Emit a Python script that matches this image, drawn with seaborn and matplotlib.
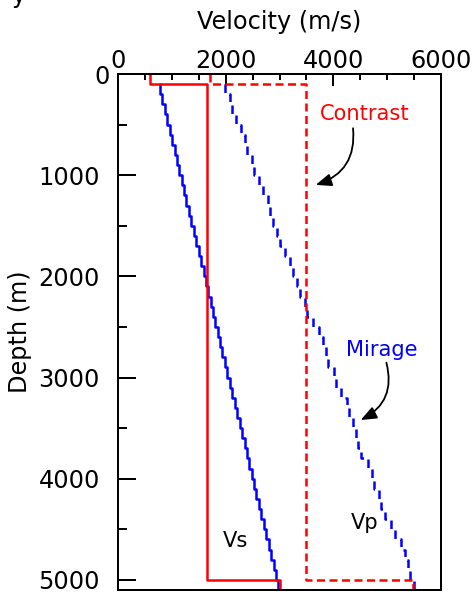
import matplotlib
matplotlib.use("Agg")
import matplotlib.pyplot as plt
from matplotlib.ticker import MultipleLocator
from matplotlib.transforms import ScaledTranslation
import pandas as pd
import seaborn as sns

# ---- data ----
model_bottom = 5100

contrast_tops = [0, 100, 5000]
contrast_vs = [600, 1660, 3000]
contrast_vp = [1700, 3500, 5480]

mirage_tops = [100, 200, 300, 400, 500, 600, 700, 800, 900, 1000,
               1100, 1200, 1300, 1400, 1500, 1600, 1700, 1800, 1900, 2000,
               2100, 2200, 2300, 2400, 2500, 2600, 2700, 2800, 2900, 3000,
               3100, 3200, 3300, 3400, 3500, 3600, 3700, 3800, 3900, 4000,
               4100, 4200, 4300, 4400, 4500, 4600, 4700, 4800, 4900, 5000]
mirage_vs = [780, 820, 870, 910, 960, 1000, 1050, 1090, 1140, 1180,
             1230, 1270, 1320, 1360, 1410, 1450, 1500, 1540, 1590, 1630,
             1680, 1720, 1770, 1810, 1860, 1900, 1940, 1990, 2030, 2080,
             2120, 2170, 2210, 2260, 2300, 2350, 2390, 2440, 2480, 2530,
             2570, 2620, 2660, 2710, 2750, 2800, 2840, 2890, 2930, 2970]
mirage_vp = [1990, 2080, 2120, 2200, 2290, 2350, 2400, 2480, 2530, 2620,
             2690, 2780, 2830, 2880, 2950, 3000, 3100, 3200, 3260, 3320,
             3380, 3470, 3520, 3620, 3740, 3800, 3860, 3910, 4010, 4050,
             4140, 4250, 4300, 4360, 4420, 4450, 4520, 4650, 4710, 4760,
             4840, 4880, 4960, 5070, 5150, 5250, 5340, 5380, 5420, 5490]

x_ticks = [0, 2000, 4000, 6000]
y_ticks = [0, 1000, 2000, 3000, 4000, 5000]


def stairs(tops, vals, bottom):
    depth, vel = [], []
    for i, (t, v) in enumerate(zip(tops, vals)):
        b = tops[i + 1] if i + 1 < len(tops) else bottom
        depth += [t, b]
        vel += [v, v]
    return pd.DataFrame({"depth": depth, "velocity": vel})


sns.set_style("white")
plt.rcParams["font.family"] = ["DejaVu Sans"]
for k in ["text.color", "axes.labelcolor", "xtick.color", "ytick.color"]:
    plt.rcParams[k] = "black"

DPI = 72
fig = plt.figure(figsize=(476 / DPI, 594 / DPI), dpi=DPI)
ax = fig.add_axes([118 / 476, 4 / 594, 323 / 476, 516 / 594])

LW = 2.5
specs = [
    (stairs(mirage_tops, mirage_vs, model_bottom), "#0000ff", None),
    (stairs(mirage_tops, mirage_vp, model_bottom), "#0000ff", (0, (3.4, 2.2))),
    (stairs(contrast_tops, contrast_vs, model_bottom), "#ff0000", None),
    (stairs(contrast_tops, contrast_vp, model_bottom), "#ff0000", (0, (3.2, 1.8))),
]
for df, col, ls in specs:
    n_before = len(ax.lines)
    sns.lineplot(data=df, x="velocity", y="depth", sort=False, estimator=None,
                 orient="y", color=col, ax=ax)
    line = ax.lines[n_before]
    line.set_linewidth(LW)
    if ls is not None:
        line.set_linestyle(ls)

ax.set_xlim(0, 6000)
ax.set_ylim(model_bottom, 0)
ax.set_xticks(x_ticks)
ax.set_yticks(y_ticks)
ax.xaxis.set_minor_locator(MultipleLocator(500))
ax.yaxis.set_minor_locator(MultipleLocator(500))
ax.xaxis.tick_top()
ax.xaxis.set_label_position("top")

ax.tick_params(axis="x", which="both", direction="in", top=True, bottom=False,
               labeltop=True, labelbottom=False, width=2, color="black")
ax.tick_params(axis="x", which="major", length=12, pad=0.5, labelsize=24)
ax.tick_params(axis="x", which="minor", length=6)
ax.tick_params(axis="y", which="both", direction="in", left=True, right=False,
               width=2, color="black")
ax.tick_params(axis="y", which="major", length=18, pad=18, labelsize=24)
ax.tick_params(axis="y", which="minor", length=9)

for s in ax.spines.values():
    s.set_linewidth(2)
    s.set_color("black")

ax.set_xlabel("Velocity (m/s)", fontsize=24, labelpad=20.5)
ax.set_ylabel("Depth (m)", fontsize=24, labelpad=6.5)

# the depth "0" label sits a little to the right in the reference
fig.canvas.draw()
lab0 = ax.get_yticklabels()[0]
lab0.set_transform(lab0.get_transform() + ScaledTranslation(10 / DPI, 0, fig.dpi_scale_trans))

arrow = dict(arrowstyle="-|>,head_length=0.55,head_width=0.22", color="black", lw=1.8,
             connectionstyle="arc3,rad=-0.4", mutation_scale=24, shrinkA=0, shrinkB=0)
ax.text(4577, 395, "Contrast", color="#ff0000", fontsize=21, ha="center", va="center")
ax.annotate("", xy=(3673, 1096), xytext=(4366, 536), arrowprops=arrow)
ax.text(4907, 2730, "Mirage", color="#0000ff", fontsize=21, ha="center", va="center")
ax.annotate("", xy=(4508, 3420), xytext=(4985, 2853), arrowprops=arrow)
ax.text(2184, 4616, "Vs", color="black", fontsize=21, ha="center", va="center")
ax.text(4583, 4440, "Vp", color="black", fontsize=21, ha="center", va="center")

# cropped remnant of a title above the figure
fig.text(11 / 476, 1 - 3 / 594, "y", fontsize=24, ha="left", va="baseline")

fig.savefig("out.png", dpi=DPI)
